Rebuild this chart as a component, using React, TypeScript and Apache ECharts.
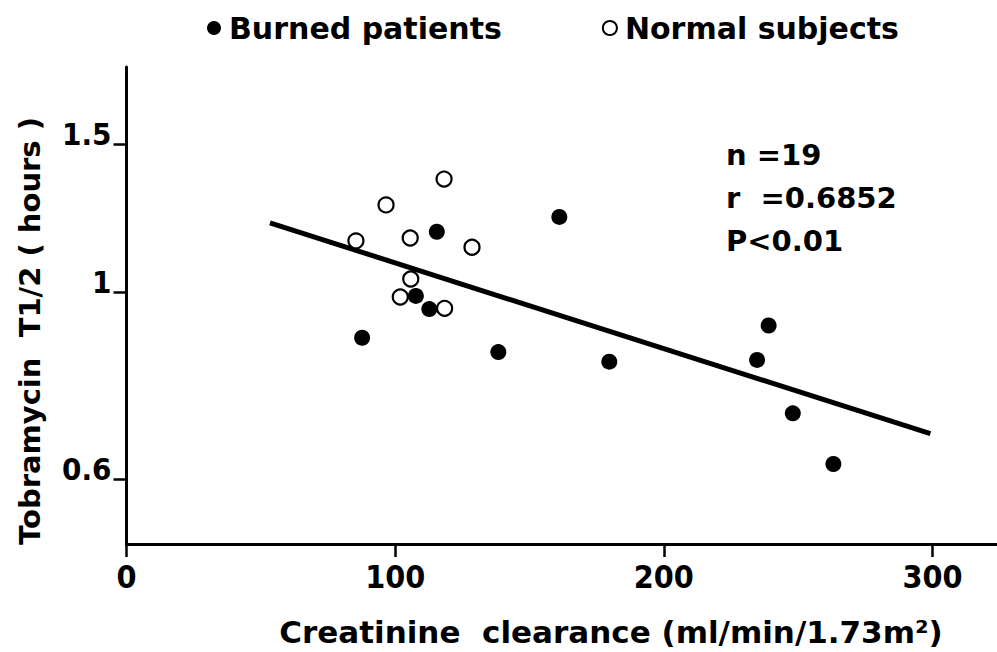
import React, { useEffect, useRef } from "react";
import * as echarts from "echarts";

// Creatinine clearance (ml/min/1.73m2) and Tobramycin T1/2 (hours)
const burnedX = [87.7, 107.7, 112.7, 115.5, 138.4, 161.1, 179.7, 234.7, 239.0, 248.0, 263.1];
const burnedY = [0.884, 0.991, 0.956, 1.181, 0.85, 1.23, 0.828, 0.832, 0.914, 0.719, 0.626];
const normalX = [85.4, 96.6, 105.6, 118.2, 128.6, 105.8, 101.9, 118.4];
const normalY = [1.152, 1.271, 1.161, 1.364, 1.132, 1.038, 0.988, 0.958];
const fitX = [53.4, 299.2];
const fitY = [1.21, 0.68];
const xTicks = [0, 100, 200, 300];
const yTicks = [0.6, 1, 1.5];
const statsLines = ["n =19", "r  =0.6852", "P<0.01"];
const seriesNames = ["Burned patients", "Normal subjects"];

const FONT = "'DejaVu Sans', sans-serif";
const NARROW = "'Liberation Sans Narrow', 'DejaVu Sans Condensed', 'DejaVu Sans', sans-serif";

export default function App() {
  const ref = useRef<HTMLDivElement>(null);
  useEffect(() => {
    if (!ref.current) return;
    const chart = echarts.init(ref.current, undefined, { renderer: "svg" });
    const zip = (xs: number[], ys: number[]) => xs.map((x, i) => [x, ys[i]]);
    chart.setOption({
      animation: false,
      backgroundColor: "#ffffff",
      grid: { left: 126.5, right: 0, top: 67, bottom: 108, containLabel: false },
      legend: {
        left: 202,
        top: 8,
        itemWidth: 14,
        itemHeight: 14,
        itemGap: 100,
        icon: "circle",
        textStyle: { fontFamily: FONT, fontWeight: "bold", fontSize: 30, color: "#000", padding: [0, 0, 0, 3] },
        data: seriesNames,
      },
      xAxis: {
        type: "value",
        min: 0,
        max: 324,
        interval: 100,
        axisLine: { show: true, lineStyle: { color: "#000", width: 3 } },
        axisTick: { show: true, length: 13, lineStyle: { color: "#000", width: 2.5 }, customValues: xTicks },
        axisLabel: {
          customValues: xTicks,
          margin: 17,
          fontFamily: NARROW,
          fontWeight: "bold",
          fontSize: 32,
          color: "#000",
        },
        splitLine: { show: false },
      },
      yAxis: {
        type: "log",
        logBase: 10,
        min: 0.503,
        max: 1.853,
        axisLine: { show: true, lineStyle: { color: "#000", width: 3 } },
        axisTick: { show: true, length: 13, lineStyle: { color: "#000", width: 2.5 }, customValues: yTicks },
        axisLabel: {
          customValues: yTicks,
          formatter: (v: number) => String(v),
          margin: 15,
          fontFamily: NARROW,
          fontWeight: "bold",
          fontSize: 31,
          color: "#000",
          verticalAlign: "bottom",
          lineHeight: 21,
        },
        splitLine: { show: false },
      },
      series: [
        {
          name: "Fit",
          type: "line",
          data: zip(fitX, fitY),
          symbol: "none",
          lineStyle: { color: "#000", width: 5 },
          z: 3,
          silent: true,
        },
        {
          name: seriesNames[0],
          type: "scatter",
          data: zip(burnedX, burnedY),
          symbol: "circle",
          symbolSize: 16,
          itemStyle: { color: "#000", borderColor: "#000", borderWidth: 0, opacity: 1 },
          z: 4,
        },
        {
          name: seriesNames[1],
          type: "scatter",
          data: zip(normalX, normalY),
          symbol: "circle",
          symbolSize: 15,
          itemStyle: { color: "#fff", borderColor: "#000", borderWidth: 2.2, opacity: 1 },
          z: 5,
        },
      ],
      graphic: [
        {
          type: "text",
          left: 726,
          top: 133,
          style: {
            text: statsLines.join("\n"),
            font: `bold 29px ${FONT}`,
            lineHeight: 43,
            fill: "#000",
          },
        },
        {
          type: "text",
          x: 30,
          y: 331,
          rotation: Math.PI / 2,
          style: {
            text: "Tobramycin  T1/2 ( hours )",
            font: `bold 29px ${FONT}`,
            fill: "#000",
            align: "center",
            verticalAlign: "middle",
          },
        },
        {
          type: "text",
          x: 611,
          y: 632,
          style: {
            text: "Creatinine  clearance (ml/min/1.73m²)",
            font: `bold 31px ${FONT}`,
            fill: "#000",
            align: "center",
            verticalAlign: "middle",
          },
        },
      ],
    });
    return () => chart.dispose();
  }, []);
  return (
    <div
      ref={ref}
      style={{ position: "fixed", left: 0, top: 0, width: 997, height: 652, background: "#fff" }}
    />
  );
}
